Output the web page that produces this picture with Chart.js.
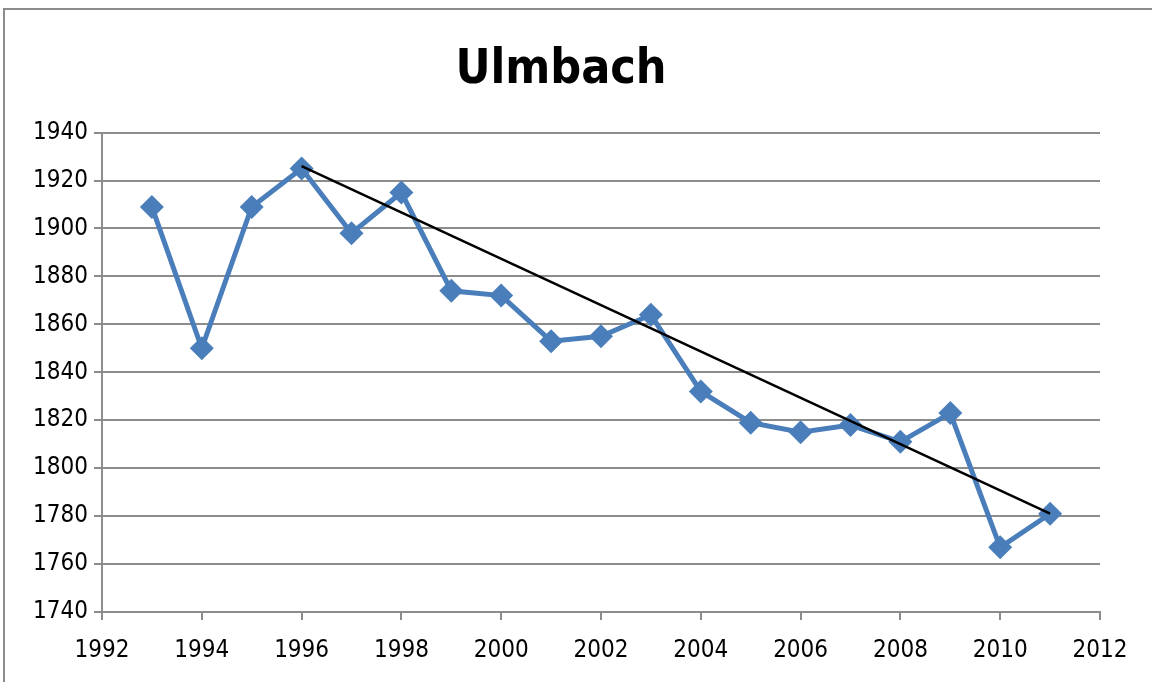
<!DOCTYPE html>
<html>
<head>
<meta charset="utf-8">
<script src="https://cdn.jsdelivr.net/npm/chart.js@4/dist/chart.umd.min.js"></script>
<style>
  html, body { margin: 0; padding: 0; background: #fff; }
  #wrap { position: relative; width: 1152px; height: 682px; overflow: hidden; }
  #frame { position: absolute; left: 3px; top: 8px; width: 1160px; height: 700px; border: 2px solid #8c8c8c; box-sizing: border-box; }
  canvas { position: absolute; left: 0; top: 0; }
</style>
</head>
<body>
<div id="wrap">
  <div id="frame"></div>
  <canvas id="c" width="1152" height="682"></canvas>
</div>
<script>
// Annual values for Ulmbach
const years = [1993, 1994, 1995, 1996, 1997, 1998, 1999, 2000, 2001, 2002,
               2003, 2004, 2005, 2006, 2007, 2008, 2009, 2010, 2011];
const values = [1909, 1850, 1909, 1925, 1898, 1915, 1874, 1872, 1853, 1855,
                1864, 1832, 1819, 1815, 1818, 1811, 1823, 1767, 1781];

// Trend line endpoints
const trendYears = [1996, 2011];
const trendValues = [1926, 1781];

const xMin = 1992, xMax = 2012, xStep = 2;
const yMin = 1740, yMax = 1940, yStep = 20;

const fontFamily = "'Liberation Sans Narrow', 'DejaVu Sans Condensed', 'Liberation Sans', sans-serif";
const gridColor = '#8c8c8c';

const seriesPoints = years.map((x, i) => ({ x: x, y: values[i] }));
const trendPoints = trendYears.map((x, i) => ({ x: x, y: trendValues[i] }));

new Chart(document.getElementById('c'), {
  type: 'line',
  data: {
    datasets: [
      {
        label: 'Ulmbach',
        data: seriesPoints,
        borderColor: '#4a7ebb',
        backgroundColor: '#4a7ebb',
        borderWidth: 5,
        pointStyle: 'rectRot',
        pointRadius: 12,
        pointBorderWidth: 0,
        tension: 0,
        order: 2
      },
      {
        label: 'Trend',
        data: trendPoints,
        borderColor: '#000000',
        borderWidth: 2.5,
        pointRadius: 0,
        tension: 0,
        order: 1
      }
    ]
  },
  options: {
    responsive: false,
    animation: false,
    events: [],
    layout: { padding: { left: 22, right: 52, top: 0, bottom: 10 } },
    plugins: {
      legend: { display: false },
      tooltip: { enabled: false },
      title: {
        display: true,
        text: 'Ulmbach',
        color: '#000',
        font: { family: fontFamily, size: 48, weight: 'bold' },
        padding: { top: 42, bottom: 33 }
      }
    },
    scales: {
      x: {
        type: 'linear',
        min: xMin,
        max: xMax,
        ticks: {
          stepSize: xStep,
          color: '#000',
          font: { family: fontFamily, size: 24 },
          padding: 16,
          maxRotation: 0,
          callback: v => String(v)
        },
        grid: { drawOnChartArea: false, drawTicks: true, tickLength: 8, color: gridColor, lineWidth: 2 },
        border: { color: gridColor, width: 2 },
        afterFit: s => { s.height = 60; }
      },
      y: {
        type: 'linear',
        min: yMin,
        max: yMax,
        ticks: {
          stepSize: yStep,
          color: '#000',
          font: { family: fontFamily, size: 24 },
          padding: 6,
          callback: v => String(v)
        },
        grid: { color: gridColor, lineWidth: 2, drawTicks: true, tickLength: 8 },
        border: { color: gridColor, width: 2 },
        afterFit: s => { s.width = 80; }
      }
    }
  }
});
</script>
</body>
</html>
